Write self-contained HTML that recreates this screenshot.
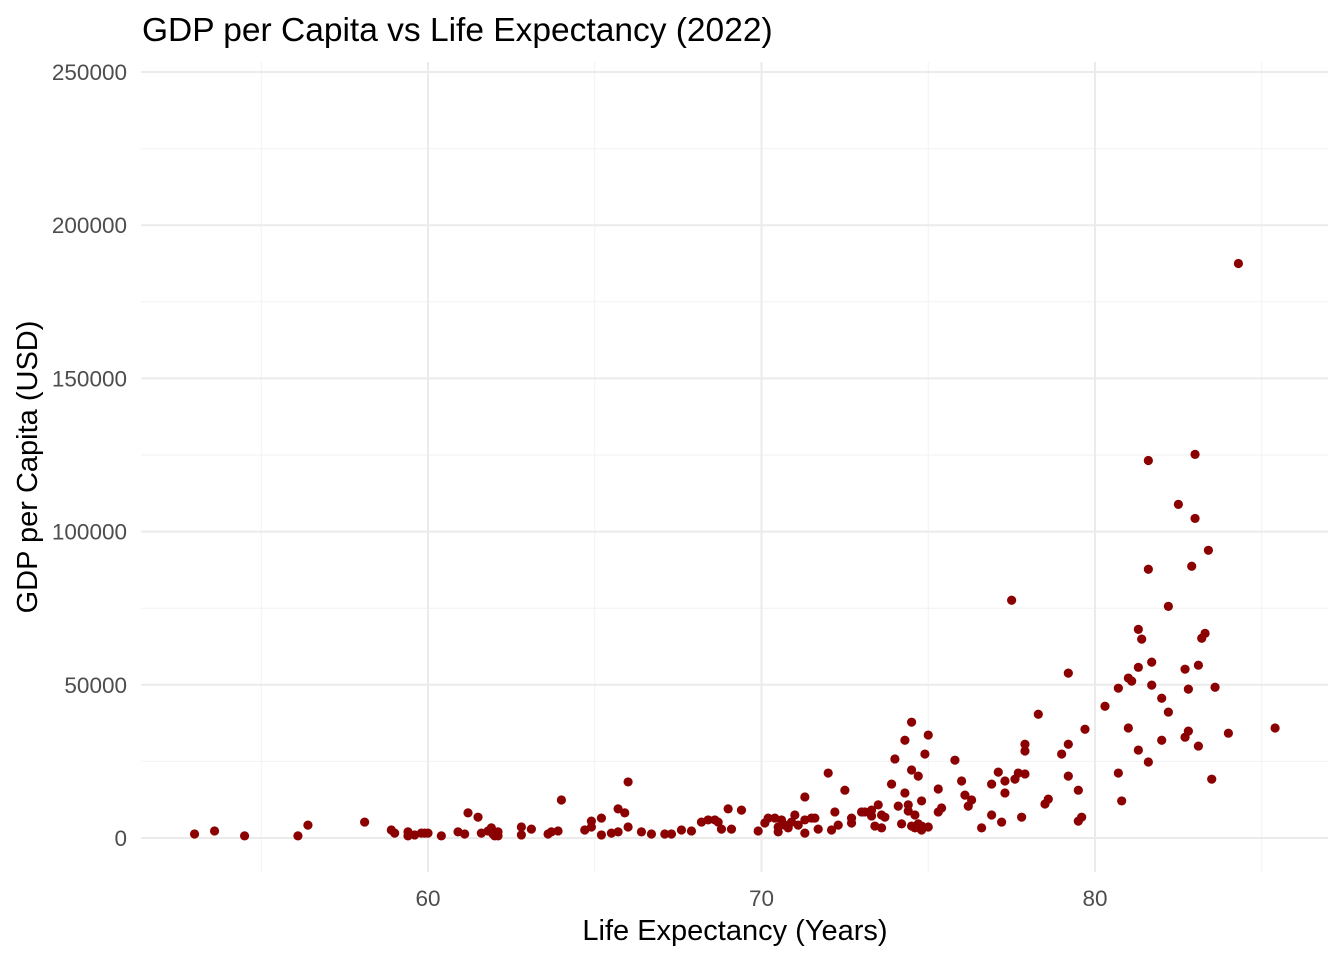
<!DOCTYPE html>
<html><head><meta charset="utf-8"><style>
html,body{margin:0;padding:0;background:#fff}
svg{display:block;font-family:"Liberation Sans",Arial,sans-serif}
</style></head><body>
<svg id="chart" width="1344" height="960" viewBox="0 0 1344 960">
<text x="142" y="41" font-size="33.5" fill="#000">GDP per Capita vs Life Expectancy (2022)</text>
<g id="grid"></g>
<g id="ticks"></g>
<g id="points"></g>
<text x="735" y="940" font-size="29" text-anchor="middle" fill="#000">Life Expectancy (Years)</text>
<text transform="translate(37,467) rotate(-90)" font-size="29" text-anchor="middle" fill="#000">GDP per Capita (USD)</text>
</svg>
<script>
const lifeExp=[53.0,53.6,54.5,56.1,56.4,58.1,58.9,59.0,59.4,59.4,59.6,59.8,59.9,60.0,60.4,60.9,61.1,61.2,61.5,61.6,61.8,61.9,61.95,62.0,62.1,62.1,62.8,62.8,63.1,63.6,63.7,63.9,64.0,64.7,64.9,64.9,65.2,65.2,65.5,65.7,65.7,65.9,66.0,66.0,66.4,66.7,67.1,67.3,67.6,67.9,68.2,68.4,68.6,68.7,68.8,69.0,69.1,69.4,69.9,70.1,70.2,70.4,70.5,70.5,70.6,70.7,70.8,70.9,71.0,71.1,71.3,71.3,71.3,71.5,71.6,71.7,72.0,72.1,72.2,72.3,72.5,72.7,72.7,73.0,73.1,73.3,73.3,73.4,73.5,73.6,73.6,73.7,73.9,74.0,74.1,74.2,74.3,74.3,74.4,74.4,74.5,74.5,74.5,74.6,74.6,74.7,74.7,74.8,74.8,74.8,74.9,75.0,75.0,75.3,75.3,75.4,75.8,76.0,76.1,76.2,76.3,76.6,76.9,76.9,77.1,77.2,77.3,77.3,77.5,77.6,77.7,77.8,77.9,77.9,77.9,78.3,78.5,78.6,79.0,79.2,79.2,79.2,79.5,79.5,79.6,79.7,80.3,80.7,80.7,80.8,81.0,81.0,81.1,81.3,81.3,81.3,81.4,81.6,81.6,81.6,81.7,81.7,82.0,82.0,82.2,82.2,82.5,82.7,82.7,82.8,82.8,82.9,83.0,83.0,83.1,83.1,83.2,83.3,83.4,83.5,83.6,84.0,84.3,85.4];
const gdp=[1300,2300,700,700,4200,5200,2600,1600,2000,700,1000,1600,1600,1600,700,2000,1300,8200,6800,1600,2300,3300,1300,700,2000,700,3600,1000,2900,1300,2000,2300,12400,2600,5500,3600,6500,1000,1600,2000,9500,8200,18300,3600,2000,1300,1300,1300,2600,2300,5200,5900,5900,5200,2900,9500,2900,9100,2300,4900,6500,6500,3600,2000,5900,4200,3300,5200,7500,4200,13400,1600,5900,6500,6500,2900,21200,2600,8500,4200,15600,4900,6500,8500,8500,7200,9100,3900,10800,7500,3300,6800,17600,25800,10400,4600,14700,31900,8800,10800,37800,3900,22200,7500,3300,4600,20200,2600,3900,12100,27400,33600,3600,16000,8500,9800,25400,18600,14000,10400,12400,3300,7500,17600,21500,5200,14700,18600,77600,19200,21200,6800,20900,30600,28400,40400,11100,12700,27400,53800,30600,20200,15600,5500,6800,35500,43000,21200,48900,12100,35900,52200,51200,28700,55700,68100,64900,24800,87700,123200,57400,49900,31900,45600,75600,41100,108900,32900,55100,48600,34900,88700,125200,104300,30000,56400,65200,66800,93900,19200,49200,34200,187500,35900];
const xTicks=[60,70,80];
const xMinor=[55,65,75,85];
const yTicks=[0,50000,100000,150000,200000,250000];
const yMinor=[25000,75000,125000,175000,225000];
const NS="http://www.w3.org/2000/svg";
const L=141,R=1328,T=62,B=872;
const sx=v=>428+(v-60)*33.35;
const sy=v=>838-v*766/250000;
function mk(tag,attrs,parent){const e=document.createElementNS(NS,tag);for(const k in attrs)e.setAttribute(k,attrs[k]);parent.appendChild(e);return e;}
const grid=document.getElementById('grid'),ticks=document.getElementById('ticks'),pts=document.getElementById('points');
yMinor.forEach(v=>{const l=mk('line',{x1:L,x2:R,y1:sy(v),y2:sy(v),stroke:'#f2f2f2','stroke-width':1},grid);

});
xMinor.forEach(v=>{const l=mk('line',{x1:sx(v),x2:sx(v),y1:T,y2:B,stroke:'#f2f2f2','stroke-width':1},grid);

});
yTicks.forEach(v=>{const l=mk('line',{x1:L,x2:R,y1:sy(v),y2:sy(v),stroke:'#ebebeb','stroke-width':2},grid);


const t=mk('text',{x:127,y:sy(v)+8,'font-size':22.5,'text-anchor':'end',fill:'#4d4d4d'},ticks);t.textContent=v;

});
xTicks.forEach(v=>{const l=mk('line',{x1:sx(v),x2:sx(v),y1:T,y2:B,stroke:'#ebebeb','stroke-width':2},grid);


const t=mk('text',{x:sx(v),y:906,'font-size':22.5,'text-anchor':'middle',fill:'#4d4d4d'},ticks);t.textContent=v;

});
lifeExp.forEach((x,i)=>{const c=mk('circle',{cx:sx(x),cy:sy(gdp[i]),r:4.6,fill:'#8b0000'},pts);

});
</script>
</body></html>
